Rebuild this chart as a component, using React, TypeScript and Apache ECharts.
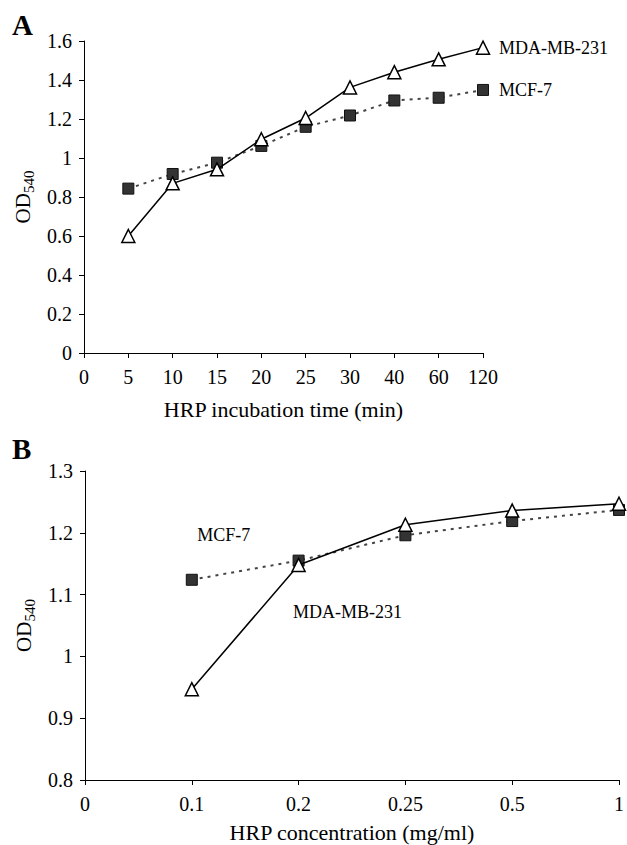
import React, { useEffect, useRef } from "react";
import * as echarts from "echarts";

const timeCats = ["0", "5", "10", "15", "20", "25", "30", "40", "60", "120"];
const mdaTime = [null, 0.6, 0.87, 0.942, 1.096, 1.205, 1.362, 1.44, 1.506, 1.566];
const mcfTime = [null, 0.843, 0.918, 0.976, 1.062, 1.16, 1.218, 1.295, 1.309, 1.349];

const concCats = ["0", "0.1", "0.2", "0.25", "0.5", "1"];
const mdaConc = [null, 0.947, 1.148, 1.213, 1.236, 1.247];
const mcfConc = [null, 1.124, 1.155, 1.196, 1.219, 1.237];

const FONT = "Liberation Serif";

function tickLabel(margin: number) {
  return {
    show: true,
    interval: 0,
    margin,
    color: "#000",
    fontFamily: FONT,
    fontSize: 20,
  };
}

function endLabel(text: string) {
  return {
    show: true,
    formatter: text,
    distance: 16,
    color: "#000",
    fontFamily: FONT,
    fontSize: 18,
  };
}

export default function App() {
  const ref = useRef<HTMLDivElement>(null);
  useEffect(() => {
    if (!ref.current) return;
    const chart = echarts.init(ref.current, null, { renderer: "svg" });
    const axisLine = { show: true, lineStyle: { color: "#000", width: 1 } };
    const axisTick = { show: true, inside: false, length: 5, lineStyle: { color: "#000" } };
    const splitLine = { show: false };
    const yNameStyle = {
      rich: {
        a: { fontFamily: FONT, fontSize: 21, color: "#000", lineHeight: 26 },
        b: { fontFamily: FONT, fontSize: 15, color: "#000", lineHeight: 26, padding: [11, 0, 0, 0] },
      },
    };
    const titleStyle = { fontFamily: FONT, fontSize: 22, color: "#000" };
    const triStyle = { color: "#fff", borderColor: "#000", borderWidth: 1.5 };
    const sqStyle = { color: "#333", borderColor: "#111", borderWidth: 1 };
    const mcfLine = { color: "#444", width: 2, type: [3, 5] as any };
    const mdaLine = { color: "#000", width: 1.5 };

    const mcfConcData = mcfConc.map((v, i) =>
      i === 1
        ? {
            value: v,
            label: {
              show: true,
              position: "inside",
              offset: [32, -45],
              formatter: "MCF-7",
              fontFamily: FONT,
              fontSize: 18,
              color: "#000",
            },
          }
        : v
    );
    const mdaConcData = mdaConc.map((v, i) =>
      i === 2
        ? {
            value: v,
            label: {
              show: true,
              position: "inside",
              offset: [49, 47],
              formatter: "MDA-MB-231",
              fontFamily: FONT,
              fontSize: 18,
              color: "#000",
            },
          }
        : v
    );

    chart.setOption({
      animation: false,
      backgroundColor: "#fff",
      textStyle: { fontFamily: FONT, fontSize: 19, color: "#000" },
      graphic: [
        { type: "text", left: 12, top: 10, style: { text: "A", font: `bold 29px "${FONT}"`, fill: "#000" } },
        { type: "text", left: 12, top: 434, style: { text: "B", font: `bold 29px "${FONT}"`, fill: "#000" } },
      ],
      grid: [
        { left: 84, top: 41, width: 399, height: 312 },
        { left: 85, top: 471, width: 536, height: 309 },
      ],
      xAxis: [
        {
          gridIndex: 0,
          type: "category",
          data: timeCats,
          boundaryGap: false,
          axisLine,
          axisTick,
          splitLine,
          axisLabel: tickLabel(14),
          name: "HRP incubation time (min)",
          nameLocation: "middle",
          nameGap: 45,
          nameTextStyle: titleStyle,
        },
        {
          gridIndex: 1,
          type: "category",
          data: concCats,
          boundaryGap: false,
          axisLine,
          axisTick,
          splitLine,
          axisLabel: tickLabel(14),
          name: "HRP concentration (mg/ml)",
          nameLocation: "middle",
          nameGap: 41,
          nameTextStyle: titleStyle,
        },
      ],
      yAxis: [
        {
          gridIndex: 0,
          type: "value",
          min: 0,
          max: 1.6,
          interval: 0.2,
          axisLine,
          axisTick,
          splitLine,
          axisLabel: tickLabel(12),
          name: "{a|OD}{b|540}",
          nameLocation: "middle",
          nameRotate: 90,
          nameGap: 47,
          nameTextStyle: yNameStyle,
        },
        {
          gridIndex: 1,
          type: "value",
          min: 0.8,
          max: 1.3,
          interval: 0.1,
          axisLine,
          axisTick,
          splitLine,
          axisLabel: tickLabel(12),
          name: "{a|OD}{b|540}",
          nameLocation: "middle",
          nameRotate: 90,
          nameGap: 47,
          nameTextStyle: yNameStyle,
        },
      ],
      series: [
        {
          name: "MCF-7",
          type: "line",
          xAxisIndex: 0,
          yAxisIndex: 0,
          data: mcfTime,
          symbol: "rect",
          symbolSize: 11,
          itemStyle: sqStyle,
          lineStyle: mcfLine,
          endLabel: endLabel("MCF-7"),
          z: 2,
        },
        {
          name: "MDA-MB-231",
          type: "line",
          xAxisIndex: 0,
          yAxisIndex: 0,
          data: mdaTime,
          symbol: "triangle",
          symbolSize: 13,
          itemStyle: triStyle,
          lineStyle: mdaLine,
          endLabel: endLabel("MDA-MB-231"),
          z: 3,
        },
        {
          name: "MCF-7 B",
          type: "line",
          xAxisIndex: 1,
          yAxisIndex: 1,
          data: mcfConcData,
          symbol: "rect",
          symbolSize: 11,
          itemStyle: sqStyle,
          lineStyle: mcfLine,
          z: 2,
        },
        {
          name: "MDA-MB-231 B",
          type: "line",
          xAxisIndex: 1,
          yAxisIndex: 1,
          data: mdaConcData,
          symbol: "triangle",
          symbolSize: 13,
          itemStyle: triStyle,
          lineStyle: mdaLine,
          z: 3,
        },
      ],
    });
    return () => chart.dispose();
  }, []);
  return (
    <div
      ref={ref}
      style={{ position: "fixed", left: 0, top: 0, width: 627, height: 845, background: "#fff" }}
    />
  );
}
